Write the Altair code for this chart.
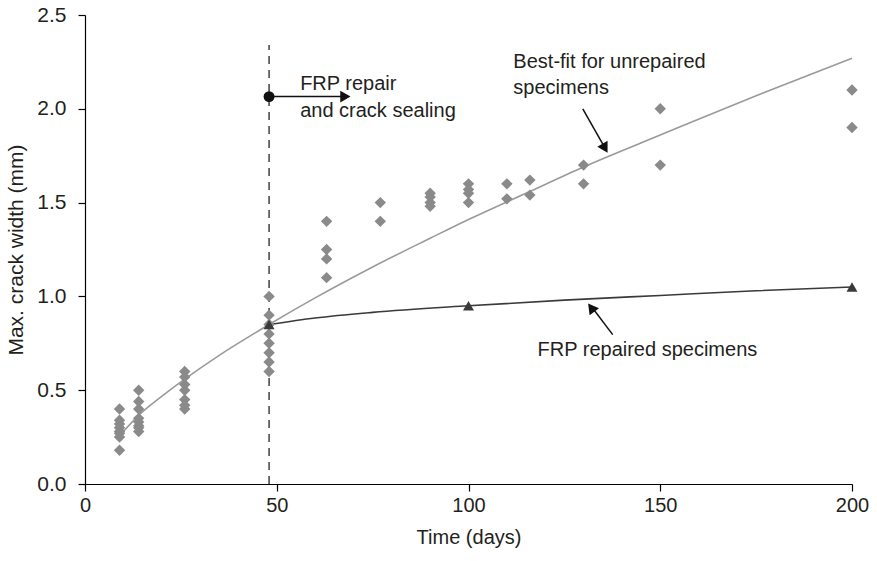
import altair as alt
import pandas as pd

# ---------------- data ----------------
spec_days = [9, 14, 26, 48, 63, 77, 90, 100, 110, 116, 130, 150, 200]
spec_widths = [
    [0.40, 0.34, 0.32, 0.30, 0.28, 0.27, 0.25, 0.18],
    [0.50, 0.44, 0.40, 0.35, 0.33, 0.31, 0.30, 0.28],
    [0.60, 0.57, 0.53, 0.50, 0.45, 0.42, 0.40],
    [1.00, 0.90, 0.85, 0.80, 0.75, 0.70, 0.65, 0.60],
    [1.40, 1.25, 1.20, 1.10],
    [1.50, 1.40],
    [1.55, 1.53, 1.50, 1.48],
    [1.60, 1.57, 1.55, 1.50],
    [1.60, 1.52],
    [1.62, 1.54],
    [1.70, 1.60],
    [2.00, 1.70],
    [2.10, 1.90],
]

fit_days = [10, 14, 20, 26, 35, 48, 60, 75, 90, 100, 115, 130, 150, 175, 200]
fit_widths = [0.28, 0.366, 0.467, 0.559, 0.686, 0.85, 0.992, 1.157, 1.31, 1.41, 1.55, 1.69, 1.86, 2.07, 2.27]

frp_days = [48, 60, 75, 100, 125, 150, 175, 200]
frp_widths = [0.85, 0.885, 0.915, 0.95, 0.98, 1.005, 1.03, 1.05]

frp_mark_days = [48, 100, 200]
frp_mark_widths = [0.85, 0.95, 1.05]

repair_day = 48

x_ticks = [0, 50, 100, 150, 200]
y_ticks = [0.0, 0.5, 1.0, 1.5, 2.0, 2.5]

# ---------------- tables ----------------
spec_df = pd.DataFrame(
    [{"day": d, "w": w} for d, ws in zip(spec_days, spec_widths) for w in ws]
)
fit_df = pd.DataFrame({"day": fit_days, "w": fit_widths})
frp_df = pd.DataFrame({"day": frp_days, "w": frp_widths})
frp_pts = pd.DataFrame({"day": frp_mark_days, "w": frp_mark_widths})

FONT = "Liberation Sans"
TXT = "#231f20"

xs = alt.Scale(domain=[0, 200], nice=False, zero=False)
ys = alt.Scale(domain=[0, 2.5], nice=False)

X = alt.X("day:Q", scale=xs, title="Time (days)",
          axis=alt.Axis(values=x_ticks, format="d", tickSize=7, labelPadding=4,
                        labelFlush=False, titlePadding=12,
                        labelFontSize=20, titleFontSize=20))
Y = alt.Y("w:Q", scale=ys, title="Max. crack width (mm)",
          axis=alt.Axis(values=y_ticks, format=".1f", tickSize=7, labelPadding=12,
                        labelFlush=False, titlePadding=10,
                        labelFontSize=21, titleFontSize=21))

diamonds = alt.Chart(spec_df).mark_point(
    shape="diamond", filled=True, color="#8a8a8a", opacity=1, size=130
).encode(x=X, y=Y)

fit_line = alt.Chart(fit_df).mark_line(
    color="#9a9a9a", strokeWidth=1.6, interpolate="monotone"
).encode(x="day:Q", y="w:Q")

frp_line = alt.Chart(frp_df).mark_line(
    color="#3a3a3a", strokeWidth=1.6, interpolate="monotone"
).encode(x="day:Q", y="w:Q")

frp_tri = alt.Chart(frp_pts).mark_point(
    shape="triangle-up", filled=True, color="#3a3a3a", opacity=1, size=120
).encode(x="day:Q", y="w:Q")

# vertical dashed line at repair time
vline_df = pd.DataFrame({"day": [repair_day], "w": [0.0], "w2": [2.34]})
vline = alt.Chart(vline_df).mark_rule(
    color="#222222", strokeDash=[8, 6], strokeWidth=1.3
).encode(x="day:Q", y="w:Q", y2="w2:Q")

# annotation: FRP repair arrow
dot_df = pd.DataFrame({"day": [repair_day], "w": [2.065]})
dot = alt.Chart(dot_df).mark_point(
    shape="circle", filled=True, color="#111111", opacity=1, size=120
).encode(x="day:Q", y="w:Q")

shafts_df = pd.DataFrame({
    "day": [48.0, 129.8, 137.6],
    "day2": [67.0, 135.8, 132.1],
    "w": [2.065, 2.00, 0.796],
    "w2": [2.065, 1.784, 0.945],
})
shafts = alt.Chart(shafts_df).mark_rule(color="#111111", strokeWidth=1.5).encode(
    x="day:Q", x2="day2:Q", y="w:Q", y2="w2:Q"
)

heads_df = pd.DataFrame({
    "day": [67.9, 135.6, 132.0],
    "w": [2.065, 1.79, 0.94],
    "ang": [90, 150, 323],
})
heads = alt.Chart(heads_df).mark_point(
    shape="triangle-up", filled=True, color="#111111", opacity=1, size=140
).encode(x="day:Q", y="w:Q", angle=alt.Angle("ang:Q", scale=None))

labels_df = pd.DataFrame({
    "day": [56.1, 56.1, 111.7, 111.7, 118.0],
    "w": [2.13, 1.99, 2.25, 2.11, 0.715],
    "t": ["FRP repair", "and crack sealing", "Best-fit for unrepaired",
          "specimens", "FRP repaired specimens"],
})
labels = alt.Chart(labels_df).mark_text(
    align="left", baseline="middle", font=FONT, fontSize=20, color=TXT
).encode(x="day:Q", y="w:Q", text="t:N")

chart = alt.layer(
    vline, fit_line, frp_line, diamonds, frp_tri, shafts, heads, dot, labels
).properties(
    width=767, height=469,
    autosize=alt.AutoSizeParams(type="none"),
    padding={"left": 85, "top": 15, "right": 25, "bottom": 77},
).configure_view(stroke=None).configure_axis(
    grid=False, domainColor="#000000", tickColor="#000000", domainWidth=1.2,
    tickWidth=1.2, labelFont=FONT, titleFont=FONT,
    titleFontWeight="normal", labelColor=TXT, titleColor=TXT
)

chart.save("out.html", embed_options={"renderer": "svg", "actions": False})
